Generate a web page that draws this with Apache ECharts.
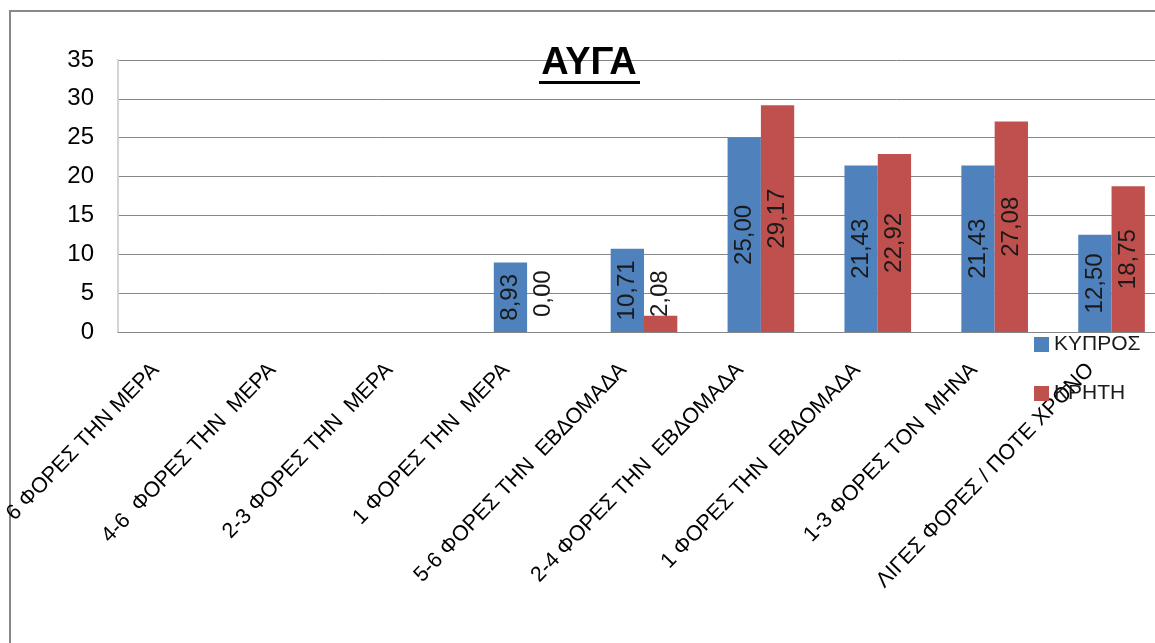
<!DOCTYPE html>
<html>
<head>
<meta charset="utf-8">
<title>ΑΥΓΑ</title>
<script src="https://cdn.jsdelivr.net/npm/echarts@6/dist/echarts.min.js"></script>
<style>
  html, body { margin: 0; padding: 0; background: #ffffff; }
  #chart { width: 1155px; height: 643px; }
</style>
</head>
<body>
<div id="chart"></div>
<script>
// Frequency of egg consumption (%), Cyprus vs Crete
const categories = [
  '6 ΦΟΡΕΣ ΤΗΝ ΜΕΡΑ',
  '4-6  ΦΟΡΕΣ ΤΗΝ  ΜΕΡΑ',
  '2-3 ΦΟΡΕΣ ΤΗΝ  ΜΕΡΑ',
  '1 ΦΟΡΕΣ ΤΗΝ  ΜΕΡΑ',
  '5-6 ΦΟΡΕΣ ΤΗΝ  ΕΒΔΟΜΑΔΑ',
  '2-4 ΦΟΡΕΣ ΤΗΝ  ΕΒΔΟΜΑΔΑ',
  '1 ΦΟΡΕΣ ΤΗΝ  ΕΒΔΟΜΑΔΑ',
  '1-3 ΦΟΡΕΣ ΤΟΝ  ΜΗΝΑ',
  'ΛΙΓΕΣ ΦΟΡΕΣ / ΠΟΤΕ ΧΡΟΝΟ'
];
const cyprus = [null, null, null, 8.93, 10.71, 25.00, 21.43, 21.43, 12.50];
const crete  = [null, null, null, 0.00, 2.08, 29.17, 22.92, 27.08, 18.75];
const seriesNames = ['ΚΥΠΡΟΣ', 'ΚΡΗΤΗ'];
const chartTitle = 'ΑΥΓΑ';

const FONT = '"Liberation Sans", Arial, sans-serif';

function fmt(v) {
  return v == null ? '' : v.toFixed(2).replace('.', ',');
}

// Short bars cannot hold their label, so it is lifted off the baseline instead
function toItems(values) {
  return values.map(v => {
    if (v != null && v < 5) {
      return {
        value: v,
        label: { position: 'insideBottom', distance: 15, align: 'left', verticalAlign: 'middle' }
      };
    }
    return v;
  });
}

const barLabel = {
  show: true,
  position: 'inside',
  rotate: 90,
  fontFamily: FONT,
  fontSize: 24,
  color: '#1a1a1a',
  formatter: p => fmt(p.value)
};

const chart = echarts.init(document.getElementById('chart'), null, { renderer: 'canvas' });

chart.setOption({
  animation: false,
  backgroundColor: '#ffffff',
  textStyle: { fontFamily: FONT },
  // the plot runs past the right edge of the canvas
  grid: {
    left: 118, width: 1052, top: 60, bottom: 311,
    containLabel: false,
    outerBoundsMode: 'none'
  },
  legend: {
    orient: 'vertical',
    left: 1034,
    top: 334,
    padding: 0,
    itemWidth: 15,
    itemHeight: 15,
    itemGap: 28,
    icon: 'rect',
    textStyle: { fontFamily: FONT, fontSize: 21, color: '#1a1a1a' },
    data: seriesNames
  },
  xAxis: {
    type: 'category',
    data: categories,
    axisLine: { show: true, lineStyle: { color: '#868686', width: 1 } },
    axisTick: { show: false },
    axisLabel: {
      interval: 0,
      rotate: 46,
      margin: 13,
      fontFamily: FONT,
      fontSize: 21.5,
      color: '#000000',
      padding: [0, 30, 0, 0]
    }
  },
  yAxis: {
    type: 'value',
    min: 0,
    max: 35,
    interval: 5,
    axisLine: { show: true, lineStyle: { color: '#d4d4d4', width: 2 } },
    axisTick: { show: false },
    splitLine: { lineStyle: { color: '#868686', width: 1 } },
    axisLabel: { margin: 24, fontFamily: FONT, fontSize: 24, color: '#000000' }
  },
  series: [
    {
      name: seriesNames[0],
      type: 'bar',
      data: toItems(cyprus),
      barGap: '0%',
      barCategoryGap: '43%',
      itemStyle: { color: '#4f81bd' },
      label: barLabel
    },
    {
      name: seriesNames[1],
      type: 'bar',
      data: toItems(crete),
      barGap: '0%',
      barCategoryGap: '43%',
      itemStyle: { color: '#c0504d' },
      label: barLabel
    }
  ],
  graphic: [
    {
      type: 'rect',
      z: -10,
      silent: true,
      shape: { x: 10, y: 11, width: 1400, height: 900 },
      style: { fill: 'none', stroke: '#888888', lineWidth: 2 }
    },
    {
      type: 'text',
      z: 100,
      x: 589,
      y: 45,
      style: {
        text: chartTitle,
        font: 'bold 38px ' + FONT,
        fill: '#000000',
        textAlign: 'center',
        textVerticalAlign: 'top'
      }
    },
    {
      type: 'rect',
      z: 100,
      shape: { x: 539, y: 81, width: 101, height: 3 },
      style: { fill: '#000000' }
    }
  ]
});
</script>
</body>
</html>
